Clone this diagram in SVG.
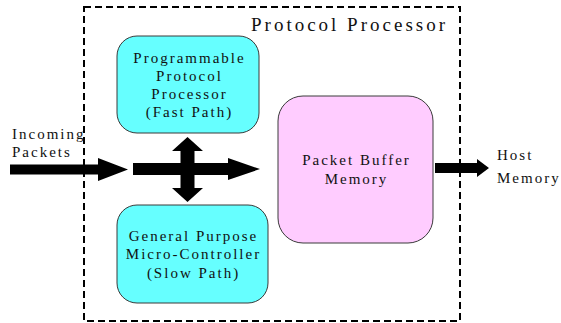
<svg xmlns="http://www.w3.org/2000/svg" width="561" height="323" viewBox="0 0 561 323">
<style>
.t{font-family:"Liberation Serif","Times New Roman",serif;font-size:15px;fill:#111;letter-spacing:2px}
.c{text-anchor:middle}
.box{stroke:#3a3a3a;stroke-width:1}
.cy{fill:#66FFFF}
.pk{fill:#FFCCFF}
.arr{fill:#000}
</style>
<rect width="561" height="323" fill="#fff"/>
<g id="container">
<rect x="84" y="7" width="376" height="314" fill="none" stroke="#000" stroke-width="2" stroke-dasharray="7,4"/>
<text x="448" y="31" class="t" style="font-size:19px;letter-spacing:3px;text-anchor:end">Protocol Processor</text>
</g>
<g id="fast-path">
<rect x="117" y="36" width="142" height="97" rx="20" class="box cy"/>
<text class="t c" x="189.5" y="63">Programmable</text>
<text class="t c" x="189.5" y="81">Protocol</text>
<text class="t c" x="189.5" y="99">Processor</text>
<text class="t c" x="189.5" y="117">(Fast Path)</text>
</g>
<g id="slow-path">
<rect x="117" y="205" width="151" height="98" rx="20" class="box cy"/>
<text class="t c" x="193.5" y="241">General Purpose</text>
<text class="t c" x="193.5" y="259">Micro-Controller</text>
<text class="t c" x="193.5" y="278">(Slow Path)</text>
</g>
<g id="packet-buffer">
<rect x="278" y="96" width="155" height="147" rx="25" class="box pk"/>
<text class="t c" x="356.5" y="165">Packet Buffer</text>
<text class="t c" x="356.5" y="184">Memory</text>
</g>
<g id="incoming">
<text class="t" x="12" y="139">Incoming</text>
<text class="t" x="12" y="157">Packets</text>
</g>
<g id="host">
<text class="t" x="497" y="160">Host</text>
<text class="t" x="497" y="183">Memory</text>
</g>
<g id="connectors">
<polygon class="arr" points="10,164.5 98,164.5 98,158 128,169.5 98,181 98,174.5 10,174.5"/>
<polygon class="arr" points="133,163 228,163 228,158 260,169 228,180 228,175 133,175"/>
<polygon class="arr" points="187.5,137 203,151 194.5,151 194.5,188 203,188 187.5,202 172,188 180.5,188 180.5,151 172,151"/>
<polygon class="arr" points="435,163 477,163 477,159 489,168 477,177 477,173 435,173"/>
</g>
</svg>
